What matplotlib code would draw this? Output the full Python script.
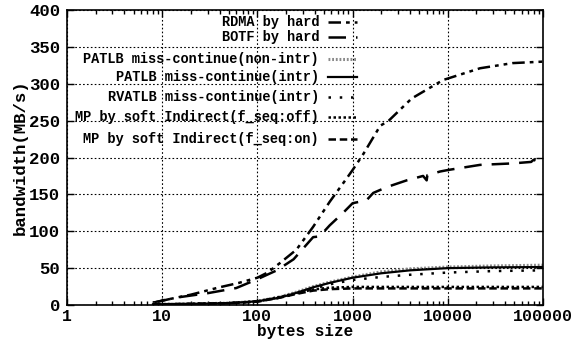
import matplotlib
matplotlib.use("Agg")
import matplotlib.pyplot as plt
from matplotlib.ticker import LogLocator, NullFormatter, FixedLocator

plt.rcParams['font.family'] = ['Liberation Mono', 'DejaVu Sans Mono']
plt.rcParams['font.weight'] = 'bold'

# bytes size vs bandwidth (MB/s)
rdma_x = [8, 10, 20, 40, 64, 100, 128, 173, 257, 385, 575, 870, 1000, 1300,
          1950, 2400, 4170, 8900, 21800, 48000, 100000]
rdma_y = [3, 6, 14, 24, 30, 37, 44, 57, 75, 106, 140, 172, 183, 205,
          243, 250, 280, 305, 321, 328, 330]

botf_x = [8, 14, 30, 60, 100, 160, 240, 385, 450, 575, 795, 1000, 1400, 1650,
          2300, 3700, 5500, 6000, 6100, 8300, 10000, 21800, 48000, 75000, 80000, 100000]
botf_y = [3, 10, 16, 23, 35, 47, 62, 92, 93, 108, 125, 138, 142, 152,
          160, 169, 175, 169, 176, 181, 183, 190, 192, 194, 197, 190]

patlb_nonintr_x = [8, 10, 20, 50, 100, 173, 250, 385, 575, 1000, 2000, 4000, 10000, 30000, 100000]
patlb_nonintr_y = [1, 1, 1.5, 2.5, 5, 11, 17, 25, 31, 38, 45, 49, 51.5, 53, 54]

patlb_intr_x = [8, 10, 20, 50, 100, 173, 250, 385, 575, 1000, 2000, 4000, 10000, 30000, 100000]
patlb_intr_y = [1, 1, 1.5, 2.5, 5, 10, 16, 24, 30, 37, 43, 47, 50, 51, 51.5]

rvatlb_x = [8, 10, 20, 50, 100, 173, 250, 385, 575, 1000, 2000, 4000, 10000, 30000, 100000]
rvatlb_y = [1, 1, 1.5, 2.5, 5, 10, 15, 22, 28, 34, 38, 41, 44, 46, 47]

mp_off_x = [8, 10, 20, 50, 100, 173, 256, 385, 575, 1000, 10000, 100000]
mp_off_y = [1, 1, 1.5, 2.5, 5, 11, 16, 21, 23.5, 24.5, 24.5, 24.5]

mp_on_x = [8, 10, 20, 50, 100, 173, 256, 385, 575, 1000, 10000, 100000]
mp_on_y = [1, 1, 1.5, 2.5, 4.5, 10, 15, 19.5, 21.5, 22.5, 22.5, 22.5]

labels = ["RDMA by hard", "BOTF by hard", "PATLB miss-continue(non-intr)",
          "PATLB miss-continue(intr)", "RVATLB miss-continue(intr)",
          "MP by soft Indirect(f_seq:off)", "MP by soft Indirect(f_seq:on)"]

styles = [
    dict(color="black", lw=1.8, dashes=(5, 2, 1.5, 2, 1.5, 2)),
    dict(color="black", lw=1.8, dashes=(7, 4)),
    dict(color="#8a8a8a", lw=2.2, dashes=(0.6, 0.6)),
    dict(color="black", lw=1.6, linestyle="-"),
    dict(color="black", lw=1.8, dashes=(1, 3.5)),
    dict(color="black", lw=1.8, dashes=(1, 1)),
    dict(color="black", lw=1.8, dashes=(3, 1.5)),
]

series = [(rdma_x, rdma_y), (botf_x, botf_y), (patlb_nonintr_x, patlb_nonintr_y),
          (patlb_intr_x, patlb_intr_y), (rvatlb_x, rvatlb_y),
          (mp_off_x, mp_off_y), (mp_on_x, mp_on_y)]

fig = plt.figure(figsize=(5.83, 3.39), dpi=100)
ax = fig.add_axes([67 / 583, 1 - 305 / 339, (543 - 67) / 583, (305 - 10) / 339])

for (x, y), st in zip(series, styles):
    ax.plot(x, y, **st)

ax.set_xscale("log")
ax.set_xlim(1, 100000)
ax.set_ylim(0, 400)
ax.yaxis.set_major_locator(FixedLocator(range(0, 401, 50)))
ax.xaxis.set_minor_locator(LogLocator(base=10, subs=range(2, 10)))
ax.xaxis.set_minor_formatter(NullFormatter())
ax.set_xticks([1, 10, 100, 1000, 10000, 100000])
ax.set_xticklabels(["1", "10", "100", "1000", "10000", "100000"])

ax.tick_params(which="both", direction="in", top=True, right=True, width=1)
ax.tick_params(which="major", length=5, labelsize=12.5)
ax.tick_params(axis="x", which="major", pad=3, labelsize=12)
ax.tick_params(axis="y", which="major", pad=5)
ax.tick_params(which="minor", length=3)
for s in ax.spines.values():
    s.set_linewidth(1.2)
ax.grid(True, which="major", color="black", linestyle=(0, (1.5, 2)), linewidth=0.8)

ax.set_xlabel("bytes size", fontsize=11.5, fontweight="bold", va="bottom")
ax.xaxis.set_label_coords(0.5, (305 - 339) / 295)
ax.set_ylabel("bandwidth(MB/s)", fontsize=12.5, fontweight="bold", labelpad=1)

# gnuplot-style key, text right-aligned with sample line after it
key_y = [22, 37, 59, 77, 97, 117, 139]
for lab, st, yp in zip(labels, styles, key_y):
    fy = (305 - yp) / 295
    ax.text((319 - 67) / 476, fy, lab, transform=ax.transAxes, ha="right",
            va="center", fontsize=9.8, fontweight="bold")
    ax.plot([(328 - 67) / 476, (357 - 67) / 476], [fy, fy], transform=ax.transAxes, **st)

fig.savefig("out.png", dpi=100)
